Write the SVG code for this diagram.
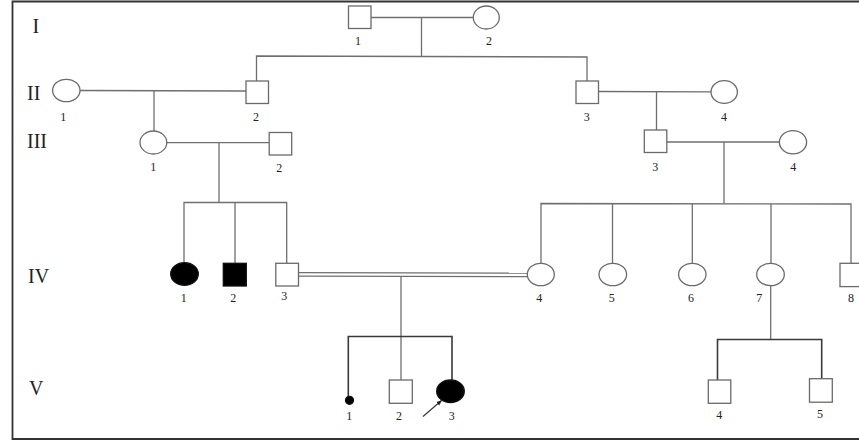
<svg xmlns="http://www.w3.org/2000/svg" width="859" height="441" viewBox="0 0 859 441">
  <defs>
    <style>
      .ln { stroke: #6f6f6f; stroke-width: 1.3; fill: none; }
      .sib { stroke: #3a3a3a; stroke-width: 1.6; fill: none; }
      .sh { stroke: #6a6a6a; stroke-width: 1.3; fill: #fff; }
      .aff { stroke: #111; stroke-width: 1.3; fill: #000; }
      .gen { font-family: "Liberation Serif", "Times New Roman", serif; font-size: 20px; fill: #222; }
      .num { font-family: "Liberation Serif", "Times New Roman", serif; font-size: 12px; fill: #222; text-anchor: middle; }
    </style>
    <marker id="arrowhead" viewBox="0 0 10 10" refX="9" refY="5" markerWidth="5" markerHeight="5" orient="auto">
      <path d="M0,1 L10,5 L0,9 z" fill="#222"/>
    </marker>
  </defs>

  <rect width="859" height="441" fill="#fff"/>
  <!-- frame (open on the right side) -->
  <path d="M870,1.5 H12.5 V439 H870" fill="none" stroke="#333" stroke-width="1.8"/>

  <!-- generation labels -->
  <g id="generation-labels">
    <text class="gen" x="32.5" y="33">I</text>
    <text class="gen" x="27" y="100">II</text>
    <text class="gen" x="27" y="148">III</text>
    <text class="gen" x="28" y="283">IV</text>
    <text class="gen" x="29" y="395">V</text>
  </g>

  <!-- connectors -->
  <g id="connectors">
    <!-- I -->
    <line class="ln" x1="371" y1="17.5" x2="473" y2="17.5"/>
    <line class="ln" x1="421.5" y1="17.5" x2="421.5" y2="56.5"/>
    <polyline class="ln" points="256.5,81 256.5,56 587,57 587,81"/>
    <!-- II left -->
    <line class="ln" x1="80" y1="90.5" x2="246" y2="91"/>
    <line class="ln" x1="154" y1="90.8" x2="154" y2="131"/>
    <!-- II right -->
    <line class="ln" x1="598.5" y1="91.5" x2="711" y2="91.8"/>
    <line class="ln" x1="656.5" y1="91.6" x2="656.5" y2="130"/>
    <!-- III left -->
    <line class="ln" x1="167" y1="142.7" x2="269" y2="142.7"/>
    <line class="ln" x1="219" y1="142.7" x2="219" y2="202.5"/>
    <polyline class="ln" points="184,263 184,202.5 286.7,202.5 286.7,263"/>
    <line class="ln" x1="235" y1="202.5" x2="235" y2="263"/>
    <!-- III right -->
    <line class="ln" x1="667" y1="142" x2="779.5" y2="142"/>
    <line class="ln" x1="724" y1="142" x2="724" y2="203.5"/>
    <polyline class="ln" points="541,263.3 541,203.5 851,204 851,263.3"/>
    <line class="ln" x1="612.5" y1="203.6" x2="612.5" y2="263.3"/>
    <line class="ln" x1="692.3" y1="203.7" x2="692.3" y2="263.3"/>
    <line class="ln" x1="771" y1="203.8" x2="771" y2="263.3"/>
    <!-- IV consanguineous union -->
    <line class="ln" x1="298.5" y1="272.6" x2="527.5" y2="273.2"/>
    <line class="ln" x1="298.5" y1="276.2" x2="527.5" y2="276.6"/>
    <line class="ln" x1="401" y1="276.5" x2="401" y2="380"/>
    <polyline class="sib" points="348.3,396 348.3,336.5 452,336.5 452,380"/>
    <!-- IV-7 offspring -->
    <line class="ln" x1="770.7" y1="286" x2="770.7" y2="339.5"/>
    <polyline class="sib" points="717.5,380 717.5,339.5 821.7,339.5 821.7,378.7"/>
    <!-- proband arrow -->
    <line x1="423" y1="416.5" x2="441.5" y2="400.5" stroke="#333" stroke-width="1.1" marker-end="url(#arrowhead)"/>
  </g>

  <!-- generation I -->
  <g id="I-1"><rect class="sh" x="348.5" y="6" width="22.5" height="22.5"/><text class="num" x="358" y="45">1</text></g>
  <g id="I-2"><ellipse class="sh" cx="486.3" cy="17.5" rx="13" ry="11.5"/><text class="num" x="489" y="45">2</text></g>

  <!-- generation II -->
  <g id="II-1"><ellipse class="sh" cx="66.3" cy="90.5" rx="13.7" ry="11.2"/><text class="num" x="63.3" y="121">1</text></g>
  <g id="II-2"><rect class="sh" x="246" y="81" width="22.5" height="22.5"/><text class="num" x="256" y="121">2</text></g>
  <g id="II-3"><rect class="sh" x="576" y="81" width="22.5" height="22.5"/><text class="num" x="586.7" y="121">3</text></g>
  <g id="II-4"><ellipse class="sh" cx="724.2" cy="92" rx="13.2" ry="11.4"/><text class="num" x="724" y="121">4</text></g>

  <!-- generation III -->
  <g id="III-1"><ellipse class="sh" cx="153.4" cy="142.5" rx="13.4" ry="11.5"/><text class="num" x="153.3" y="171">1</text></g>
  <g id="III-2"><rect class="sh" x="269.2" y="132.5" width="22.5" height="22.5"/><text class="num" x="279.3" y="172">2</text></g>
  <g id="III-3"><rect class="sh" x="644.3" y="130" width="22.5" height="22.5"/><text class="num" x="655.3" y="170.5">3</text></g>
  <g id="III-4"><ellipse class="sh" cx="793" cy="142.3" rx="13.6" ry="11.6"/><text class="num" x="793.3" y="170.5">4</text></g>

  <!-- generation IV -->
  <g id="IV-1"><ellipse class="aff" cx="184.5" cy="274" rx="13.8" ry="11.3"/><text class="num" x="183.7" y="301.5">1</text></g>
  <g id="IV-2"><rect class="aff" x="223.3" y="263.3" width="23" height="22.7"/><text class="num" x="233.3" y="301.5">2</text></g>
  <g id="IV-3"><rect class="sh" x="275.8" y="263.3" width="22.7" height="22.7"/><text class="num" x="284.3" y="300">3</text></g>
  <g id="IV-4"><ellipse class="sh" cx="540.8" cy="274.5" rx="13.5" ry="11.2"/><text class="num" x="539.3" y="301.5">4</text></g>
  <g id="IV-5"><ellipse class="sh" cx="612.8" cy="274.5" rx="13.8" ry="11.2"/><text class="num" x="611.7" y="301.5">5</text></g>
  <g id="IV-6"><ellipse class="sh" cx="692.3" cy="274.5" rx="13.7" ry="11.2"/><text class="num" x="691" y="301.5">6</text></g>
  <g id="IV-7"><ellipse class="sh" cx="770.5" cy="274.5" rx="13.8" ry="11.2"/><text class="num" x="759.3" y="301.5">7</text></g>
  <g id="IV-8"><rect class="sh" x="840" y="263.3" width="23" height="23.3"/><text class="num" x="851" y="301.5">8</text></g>

  <!-- generation V -->
  <g id="V-1"><circle class="aff" cx="349.5" cy="400.3" r="4"/><text class="num" x="349.3" y="420">1</text></g>
  <g id="V-2"><rect class="sh" x="389.3" y="380" width="23" height="23.3"/><text class="num" x="399" y="420.3">2</text></g>
  <g id="V-3"><ellipse class="aff" cx="450.5" cy="391.2" rx="13.8" ry="11.3"/><text class="num" x="451.7" y="420">3</text></g>
  <g id="V-4"><rect class="sh" x="708.3" y="380" width="22.5" height="23.3"/><text class="num" x="719.3" y="419.3">4</text></g>
  <g id="V-5"><rect class="sh" x="809.5" y="378.7" width="22.8" height="23.5"/><text class="num" x="820" y="418.3">5</text></g>
</svg>
